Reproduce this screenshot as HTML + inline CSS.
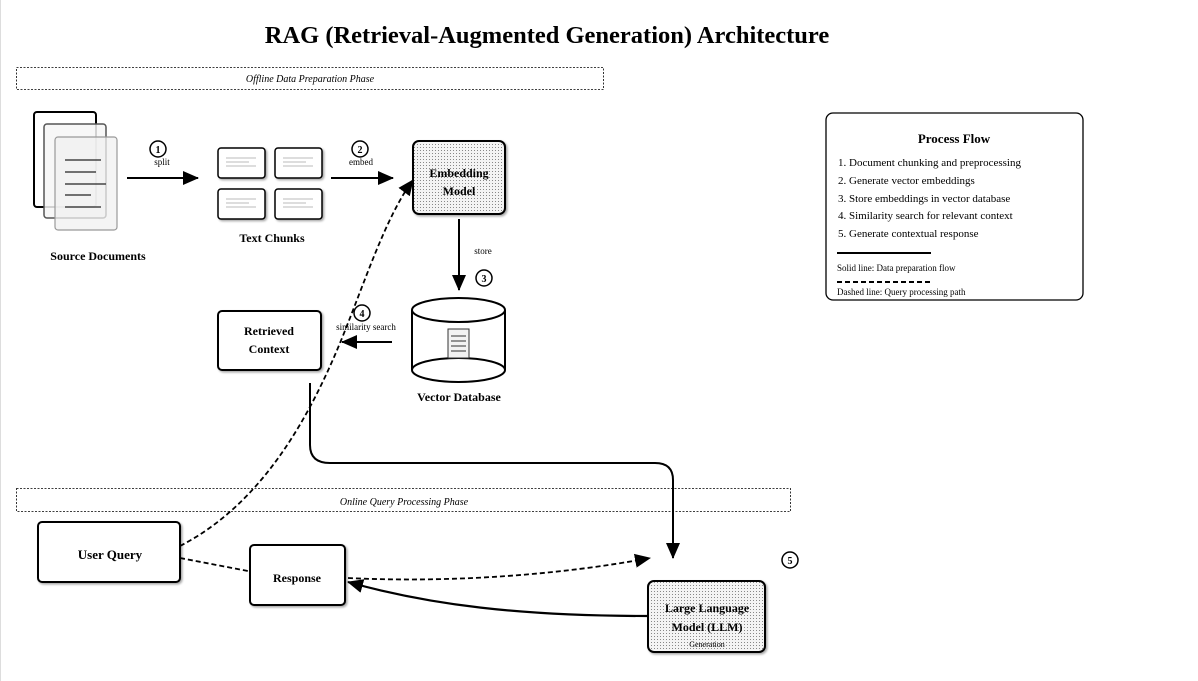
<!DOCTYPE html>
<html><head><meta charset="utf-8"><style>
html,body{margin:0;padding:0;background:#fff}
svg{display:block}
text{font-family:"Liberation Serif",serif}
</style></head><body>
<svg width="1198" height="681" viewBox="0 0 1198 681" xmlns="http://www.w3.org/2000/svg">
<defs>
<pattern id="dots" width="3" height="3" patternUnits="userSpaceOnUse"><rect width="3" height="3" fill="#f4f4f4"/><rect width="1" height="1" fill="#888"/></pattern>
<marker id="ahb" markerWidth="16" markerHeight="16" refX="15" refY="8" orient="auto" markerUnits="userSpaceOnUse" viewBox="0 0 16 16"><path d="M0,1 L16,8 L0,15 z" fill="#000"/></marker>
<filter id="sh" x="-10%" y="-10%" width="130%" height="130%"><feDropShadow dx="1.5" dy="1.5" stdDeviation="1" flood-opacity="0.35"/></filter>
</defs>
<line x1="0.5" y1="0" x2="0.5" y2="681" stroke="#ddd"/>
<text x="547" y="43" font-size="24.5" font-weight="bold" text-anchor="middle">RAG (Retrieval-Augmented Generation) Architecture</text>

<rect x="16.5" y="67.5" width="587" height="22" fill="none" stroke="#000" stroke-dasharray="2,1.5" stroke-width="0.8"/>
<text x="310" y="82" font-size="10" font-style="italic" text-anchor="middle">Offline Data Preparation Phase</text>

<rect x="34" y="112" width="62" height="95" rx="3" fill="#fff" stroke="#000" stroke-width="2"/>
<rect x="44" y="124" width="62" height="94" rx="3" fill="#f6f6f6" fill-opacity="0.85" stroke="#555" stroke-width="1.5"/>
<rect x="55" y="137" width="62" height="93" rx="3" fill="#f0f0f0" fill-opacity="0.75" stroke="#999" stroke-width="1.2"/>
<g stroke="#444" stroke-width="1.5"><line x1="65" y1="160" x2="101" y2="160"/><line x1="65" y1="172" x2="96" y2="172"/><line x1="65" y1="184" x2="106" y2="184"/><line x1="65" y1="195" x2="91" y2="195"/><line x1="65" y1="207" x2="101" y2="207"/></g>
<text x="98" y="260" font-size="12" font-weight="bold" text-anchor="middle">Source Documents</text>

<line x1="127" y1="178" x2="198" y2="178" stroke="#000" stroke-width="2" marker-end="url(#ahb)"/>
<circle cx="158" cy="149" r="8" fill="#fff" stroke="#000" stroke-width="1.5"/><text x="158" y="153" font-size="10" font-weight="bold" text-anchor="middle">1</text>
<text x="162" y="165" font-size="9" text-anchor="middle">split</text>

<g filter="url(#sh)" fill="#fff" stroke="#000" stroke-width="1.5">
<rect x="218" y="148" width="47" height="30" rx="3"/><rect x="275" y="148" width="47" height="30" rx="3"/>
<rect x="218" y="189" width="47" height="30" rx="3"/><rect x="275" y="189" width="47" height="30" rx="3"/>
</g>
<g stroke="#bbb" stroke-width="1"><line x1="226" y1="158" x2="256" y2="158"/><line x1="226" y1="162" x2="249" y2="162"/><line x1="226" y1="166" x2="256" y2="166"/>
<line x1="283" y1="158" x2="313" y2="158"/><line x1="283" y1="162" x2="306" y2="162"/><line x1="283" y1="166" x2="313" y2="166"/>
<line x1="226" y1="199" x2="256" y2="199"/><line x1="226" y1="203" x2="249" y2="203"/><line x1="226" y1="207" x2="256" y2="207"/>
<line x1="283" y1="199" x2="313" y2="199"/><line x1="283" y1="203" x2="306" y2="203"/><line x1="283" y1="207" x2="313" y2="207"/></g>
<text x="272" y="242" font-size="12" font-weight="bold" text-anchor="middle">Text Chunks</text>

<line x1="331" y1="178" x2="393" y2="178" stroke="#000" stroke-width="2" marker-end="url(#ahb)"/>
<circle cx="360" cy="149" r="8" fill="#fff" stroke="#000" stroke-width="1.5"/><text x="360" y="153" font-size="10" font-weight="bold" text-anchor="middle">2</text>
<text x="361" y="165" font-size="9" text-anchor="middle">embed</text>

<rect x="413" y="141" width="92" height="73" rx="6" fill="url(#dots)" stroke="#000" stroke-width="2" filter="url(#sh)"/>
<text x="459" y="177" font-size="12" font-weight="bold" text-anchor="middle">Embedding</text>
<text x="459" y="195" font-size="12" font-weight="bold" text-anchor="middle">Model</text>

<line x1="459" y1="219" x2="459" y2="290" stroke="#000" stroke-width="2" marker-end="url(#ahb)"/>
<text x="483" y="254" font-size="9" text-anchor="middle">store</text>
<circle cx="484" cy="278" r="8" fill="#fff" stroke="#000" stroke-width="1.5"/><text x="484" y="282" font-size="10" font-weight="bold" text-anchor="middle">3</text>

<path d="M412,310 L412,370 A46.5,12 0 0 0 505,370 L505,310" fill="#fff" stroke="#000" stroke-width="2"/>
<ellipse cx="458.5" cy="310" rx="46.5" ry="12" fill="#fff" stroke="#000" stroke-width="2"/>
<path d="M412,370 A46.5,12 0 0 1 505,370" fill="none" stroke="#000" stroke-width="2"/>
<rect x="448" y="329" width="21" height="29" fill="#f2f2f2" stroke="#333"/>
<g stroke="#333"><line x1="451" y1="336" x2="466" y2="336"/><line x1="451" y1="341" x2="466" y2="341"/><line x1="451" y1="346" x2="466" y2="346"/><line x1="451" y1="351" x2="466" y2="351"/></g>
<text x="459" y="401" font-size="12" font-weight="bold" text-anchor="middle">Vector Database</text>

<line x1="392" y1="342" x2="342" y2="342" stroke="#000" stroke-width="2" marker-end="url(#ahb)"/>
<circle cx="362" cy="313" r="8" fill="#fff" stroke="#000" stroke-width="1.5"/><text x="362" y="317" font-size="10" font-weight="bold" text-anchor="middle">4</text>
<text x="366" y="330" font-size="9" text-anchor="middle">similarity search</text>

<rect x="218" y="311" width="103" height="59" rx="4" fill="#fff" stroke="#000" stroke-width="2" filter="url(#sh)"/>
<text x="269" y="335" font-size="12" font-weight="bold" text-anchor="middle">Retrieved</text>
<text x="269" y="353" font-size="12" font-weight="bold" text-anchor="middle">Context</text>

<path d="M310,383 L310,445 Q310,463 330,463 L655,463 Q673,463 673,480 L673,558" fill="none" stroke="#000" stroke-width="2" marker-end="url(#ahb)"/>

<rect x="16.5" y="488.5" width="774" height="23" fill="none" stroke="#000" stroke-dasharray="2,1.5" stroke-width="0.8"/>
<text x="404" y="505" font-size="10" font-style="italic" text-anchor="middle">Online Query Processing Phase</text>

<path d="M180,546 C250,510 300,440 340,343 C365,282 385,218 413,180" fill="none" stroke="#000" stroke-width="1.8" stroke-dasharray="5,3" marker-end="url(#ahb)"/>
<path d="M180,558 L248,571" fill="none" stroke="#000" stroke-width="1.8" stroke-dasharray="5,3"/>
<path d="M348,578 C450,583 560,575 650,558" fill="none" stroke="#000" stroke-width="1.8" stroke-dasharray="5,3" marker-end="url(#ahb)"/>
<path d="M648,616 C520,616 430,605 348,582" fill="none" stroke="#000" stroke-width="2.2" marker-end="url(#ahb)"/>

<rect x="38" y="522" width="142" height="60" rx="4" fill="#fff" stroke="#000" stroke-width="2" filter="url(#sh)"/>
<text x="110" y="559" font-size="13" font-weight="bold" text-anchor="middle">User Query</text>
<rect x="250" y="545" width="95" height="60" rx="4" fill="#fff" stroke="#000" stroke-width="2" filter="url(#sh)"/>
<text x="297" y="582" font-size="12" font-weight="bold" text-anchor="middle">Response</text>

<rect x="648" y="581" width="117" height="71" rx="6" fill="url(#dots)" stroke="#000" stroke-width="2" filter="url(#sh)"/>
<text x="707" y="612" font-size="12" font-weight="bold" text-anchor="middle">Large Language</text>
<text x="707" y="631" font-size="12" font-weight="bold" text-anchor="middle">Model (LLM)</text>
<text x="707" y="647" font-size="8" text-anchor="middle">Generation</text>
<circle cx="790" cy="560" r="8" fill="#fff" stroke="#000" stroke-width="1.5"/><text x="790" y="564" font-size="10" font-weight="bold" text-anchor="middle">5</text>

<rect x="826" y="113" width="257" height="187" rx="7" fill="#fff" stroke="#000" stroke-width="1.3"/>
<text x="954" y="143" font-size="13" font-weight="bold" text-anchor="middle">Process Flow</text>
<g font-size="11"><text x="838" y="166">1. Document chunking and preprocessing</text>
<text x="838" y="184">2. Generate vector embeddings</text>
<text x="838" y="202">3. Store embeddings in vector database</text>
<text x="838" y="219">4. Similarity search for relevant context</text>
<text x="838" y="237">5. Generate contextual response</text></g>
<line x1="837" y1="253" x2="931" y2="253" stroke="#000" stroke-width="2"/>
<text x="837" y="271" font-size="9">Solid line: Data preparation flow</text>
<line x1="837" y1="282" x2="931" y2="282" stroke="#000" stroke-width="2" stroke-dasharray="5,3"/>
<text x="837" y="295" font-size="9">Dashed line: Query processing path</text>
</svg>
</body></html>
